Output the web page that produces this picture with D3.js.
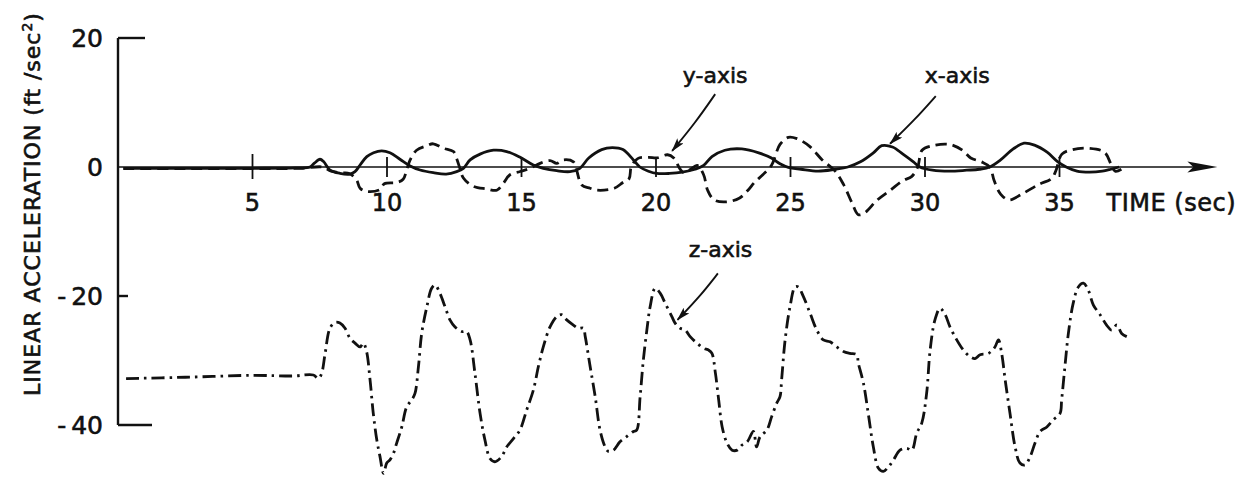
<!DOCTYPE html>
<html>
<head>
<meta charset="utf-8">
<script src="https://cdn.jsdelivr.net/npm/d3@7"></script>
<style>
  html, body { margin: 0; padding: 0; background: #fff; }
  svg { display: block; }
  text { font-family: "DejaVu Sans", sans-serif; fill: #111; stroke: #111; stroke-width: 0.6px; }
</style>
</head>
<body>
<svg id="chart" width="1242" height="477"></svg>
<script>
// time (sec) and linear acceleration (ft/sec^2)
var xAxisT = [0.2, 2.5, 5.0, 6.6, 7.14, 7.3, 7.51, 7.65, 7.88, 8.25, 8.63, 8.81, 9.0, 9.25, 9.5, 9.8, 10.11, 10.48, 10.86, 11.23, 11.72, 12.2, 12.59, 12.84, 13.09, 13.46, 13.96, 14.45, 14.95, 15.44, 15.81, 16.31, 16.8, 17.17, 17.5, 17.98, 18.38, 18.77, 19.16, 19.4, 19.72, 20.03, 20.5, 20.98, 21.45, 21.77, 22.08, 22.56, 23.19, 23.82, 24.29, 24.61, 24.92, 25.39, 26.03, 26.66, 27.13, 27.6, 28.08, 28.39, 28.79, 29.18, 29.57, 29.81, 30.28, 30.91, 31.55, 32.02, 32.41, 32.81, 33.28, 33.68, 34.07, 34.54, 34.94, 35.25, 35.65, 36.12, 36.59, 36.91, 37.22];
var xAxisV = [-0.2, -0.2, -0.2, -0.15, 0, 0.6, 1.2, 0.8, -0.47, -0.98, -1.09, -0.72, 0.31, 1.6, 2.2, 2.5, 2.2, 1.2, 0.16, -0.47, -0.88, -1.1, -0.72, -0.2, 1.1, 2.0, 2.6, 2.4, 1.5, 0.3, -0.2, -0.57, -0.72, -0.2, 1.4, 2.7, 3.0, 2.7, 1.1, 0, -0.65, -1.0, -1.0, -0.8, -0.35, 0.24, 1.6, 2.6, 2.8, 2.2, 1.4, 0.5, -0.06, -0.35, -0.65, -0.35, 0, 0.8, 2.2, 3.3, 3.1, 2.0, 0.8, 0, -0.5, -0.65, -0.5, -0.35, 0, 1.1, 2.8, 3.7, 3.4, 2.3, 0.8, 0, -0.65, -0.8, -0.65, -0.35, 0];

var yAxisT = [0.2, 2.5, 5.0, 6.8, 7.6, 7.9, 8.3, 8.6, 8.87, 9.0, 9.25, 9.74, 9.9, 10.36, 10.6, 10.73, 10.86, 11.1, 11.48, 11.72, 12.1, 12.47, 12.59, 12.71, 12.84, 13.21, 13.71, 14.08, 14.33, 14.57, 14.95, 15.32, 15.69, 16.06, 16.31, 16.55, 16.93, 17.05, 17.24, 17.55, 17.82, 18.45, 18.77, 19.0, 19.08, 19.32, 19.72, 20.03, 20.43, 20.66, 20.9, 21.06, 21.29, 21.53, 21.77, 21.92, 22.16, 22.63, 23.11, 23.42, 23.66, 23.97, 24.29, 24.61, 24.92, 25.24, 25.71, 26.18, 26.66, 26.97, 27.29, 27.52, 27.76, 28.23, 28.71, 29.18, 29.5, 29.73, 29.89, 30.28, 30.91, 31.39, 31.7, 32.1, 32.41, 32.57, 32.81, 33.12, 33.6, 34.23, 34.7, 34.86, 35.09, 35.49, 36.12, 36.67, 36.91, 37.07, 37.3];
var yAxisV = [-0.25, -0.25, -0.25, -0.2, 0, -0.6, -0.9, -1.0, -2.0, -3.3, -3.8, -3.5, -2.6, -2.4, -1.9, -0.5, 1.1, 2.6, 3.3, 3.6, 2.9, 2.4, 1.3, -0.2, -1.7, -3.0, -3.4, -3.6, -2.5, -1.2, -0.7, -0.2, 0.57, 1.0, 0.57, 1.1, 0.8, -0.5, -2.8, -3.3, -3.6, -3.3, -2.4, -1.8, 0, 1.3, 1.5, 1.4, 1.9, 1.4, -0.35, -0.9, -0.35, 0.24, -1.2, -3.6, -5.1, -5.4, -4.8, -3.6, -2.4, -1.2, 0.24, 3.5, 4.6, 4.4, 3.2, 1.1, -0.65, -2.7, -5.6, -7.4, -7.1, -5.1, -3.6, -2.1, -1.5, 0, 2.6, 3.3, 3.5, 2.6, 1.4, 0.8, 0, -2.1, -4.2, -5.1, -4.2, -2.7, -1.8, -0.65, 2.0, 2.7, 2.9, 2.3, 0.5, -0.65, -0.35];

var zAxisT = [0.3, 2.5, 5.0, 6.5, 7.26, 7.45, 7.57, 7.7, 7.88, 8.07, 8.25, 8.44, 8.63, 8.81, 9.0, 9.12, 9.24, 9.37, 9.49, 9.62, 9.74, 9.87, 9.99, 10.11, 10.24, 10.36, 10.55, 10.73, 10.92, 11.04, 11.17, 11.29, 11.48, 11.66, 11.79, 11.97, 12.16, 12.34, 12.53, 12.78, 12.96, 13.09, 13.27, 13.46, 13.64, 13.83, 14.01, 14.26, 14.45, 14.7, 14.94, 15.19, 15.44, 15.63, 15.81, 16.06, 16.31, 16.49, 16.68, 16.93, 17.12, 17.3, 17.37, 17.55, 17.74, 17.92, 18.11, 18.23, 18.42, 18.66, 18.91, 19.16, 19.28, 19.41, 19.53, 19.66, 19.78, 19.97, 20.16, 20.34, 20.59, 20.71, 20.9, 21.09, 21.27, 21.52, 21.77, 21.96, 22.08, 22.21, 22.33, 22.46, 22.64, 22.83, 23.02, 23.2, 23.39, 23.62, 23.74, 23.87, 24.12, 24.3, 24.49, 24.61, 24.67, 24.8, 24.98, 25.17, 25.29, 25.48, 25.73, 25.98, 26.22, 26.47, 26.72, 26.97, 27.21, 27.46, 27.52, 27.71, 27.89, 28.08, 28.27, 28.45, 28.64, 28.83, 29.07, 29.32, 29.51, 29.69, 29.88, 30.06, 30.19, 30.37, 30.56, 30.75, 30.93, 31.18, 31.43, 31.67, 31.86, 32.05, 32.36, 32.6, 32.73, 32.85, 32.98, 33.16, 33.35, 33.53, 33.72, 33.91, 34.09, 34.28, 34.53, 34.77, 35.02, 35.08, 35.2, 35.33, 35.51, 35.7, 35.89, 36.07, 36.26, 36.51, 36.75, 36.94, 37.13, 37.31, 37.5];
var zAxisV = [-32.8, -32.6, -32.3, -32.4, -32.25, -32.8, -32.0, -28.9, -25.0, -24.1, -24.2, -25.0, -26.6, -27.3, -27.9, -27.3, -28.6, -33.0, -38.2, -42.3, -44.9, -47.5, -45.9, -45.4, -44.4, -42.8, -40.3, -37.2, -36.1, -35.1, -30.9, -25.8, -21.7, -18.8, -18.3, -19.6, -21.7, -23.7, -24.8, -25.5, -25.5, -26.8, -32.0, -38.2, -42.3, -45.2, -45.7, -44.9, -43.4, -42.1, -40.8, -37.7, -34.6, -30.9, -27.9, -24.8, -23.2, -22.9, -23.7, -24.5, -25.0, -25.0, -26.3, -30.9, -35.6, -40.8, -43.4, -44.1, -43.9, -42.6, -41.8, -41.0, -40.8, -35.6, -29.9, -25.3, -21.7, -18.8, -19.6, -21.1, -23.2, -24.2, -25.0, -25.3, -26.3, -27.3, -28.1, -28.4, -28.9, -32.0, -36.1, -40.3, -42.8, -43.9, -43.9, -43.1, -42.6, -41.0, -43.4, -41.8, -40.8, -38.7, -36.6, -35.6, -33.0, -26.8, -21.7, -18.6, -18.6, -20.1, -22.7, -25.3, -26.8, -27.1, -27.9, -28.6, -28.9, -29.1, -30.4, -33.5, -38.2, -43.4, -46.7, -47.2, -46.5, -45.4, -43.9, -43.6, -43.9, -41.3, -39.7, -35.1, -28.4, -23.7, -21.9, -22.9, -24.8, -26.8, -28.4, -29.4, -29.7, -29.1, -28.9, -27.9, -26.8, -28.9, -33.0, -38.2, -43.4, -45.9, -46.2, -44.9, -42.8, -41.0, -40.3, -39.2, -38.2, -36.1, -31.0, -25.8, -21.1, -18.6, -18.0, -19.1, -21.4, -22.9, -24.5, -25.3, -24.5, -25.8, -26.3];

var timeTicks = [5, 10, 15, 20, 25, 30, 35];
var accelTicks = [20, 0, -20, -40];
var accelTickLabels = ["20", "0", "-\u200920", "-\u200940"];

var svg = d3.select("#chart");

var x = d3.scaleLinear().domain([0, 40]).range([118, 1194]);
var y = d3.scaleLinear().domain([20, -40]).range([38, 425]);

function pairs(ts, vs) { return ts.map(function (t, i) { return [t, vs[i]]; }); }

var line = d3.line()
    .x(function (d) { return x(d[0]); })
    .y(function (d) { return y(d[1]); })
    .curve(d3.curveCatmullRom.alpha(0.5));

// y axis (vertical line + uneven tick stubs)
svg.append("line")
    .attr("x1", x(0)).attr("x2", x(0))
    .attr("y1", y(20)).attr("y2", y(-40))
    .attr("stroke", "#111").attr("stroke-width", 2.4);

var stub = { "20": 27, "0": 0, "-20": 10, "-40": 34 };
svg.selectAll(".ytick").data(accelTicks).enter().append("line")
    .attr("class", "ytick")
    .attr("x1", x(0)).attr("x2", function (d) { return x(0) + stub[d]; })
    .attr("y1", y).attr("y2", y)
    .attr("stroke", "#111").attr("stroke-width", 2.4);

svg.selectAll(".ylab").data(accelTicks).enter().append("text")
    .attr("class", "ylab")
    .attr("x", x(0) - 15)
    .attr("y", function (d) { return y(d) + 9; })
    .attr("text-anchor", "end")
    .style("font-size", "25px")
    .text(function (d, i) { return accelTickLabels[i]; });

// y axis title
svg.append("text")
    .attr("transform", "translate(40,204) rotate(-90)")
    .attr("text-anchor", "middle")
    .style("font-size", "22px")
    .style("letter-spacing", "1px")
    .html('LINEAR ACCELERATION (ft /sec<tspan dy="-8" font-size="14px">2</tspan><tspan dy="8">)</tspan>');

// time axis with arrow
svg.append("line")
    .attr("x1", x(0)).attr("x2", x(40.2))
    .attr("y1", y(0)).attr("y2", y(0))
    .attr("stroke", "#111").attr("stroke-width", 1.6);

svg.append("path")
    .attr("d", d3.line()([[x(40.2) - 12, y(0) - 5.5], [x(40.2) + 18, y(0)], [x(40.2) - 12, y(0) + 5.5], [x(40.2) - 6, y(0)]]) + "Z")
    .attr("fill", "#111");

svg.selectAll(".xtick").data(timeTicks).enter().append("line")
    .attr("class", "xtick")
    .attr("x1", x).attr("x2", x)
    .attr("y1", function (d) { return y(0) - (d === 5 ? 13 : 10); })
    .attr("y2", function (d) { return y(0) + (d === 5 ? 12 : 10); })
    .attr("stroke", "#111").attr("stroke-width", 1.8);

svg.selectAll(".xlab").data(timeTicks).enter().append("text")
    .attr("class", "xlab")
    .attr("x", x)
    .attr("y", y(0) + 44)
    .attr("text-anchor", "middle")
    .style("font-size", "24px")
    .text(function (d) { return d; });

svg.append("text")
    .attr("x", 1236)
    .attr("y", y(0) + 44)
    .attr("text-anchor", "end")
    .style("font-size", "24px")
    .style("letter-spacing", "0.5px")
    .text("TIME (sec)");

// traces
svg.append("path")
    .datum(pairs(zAxisT, zAxisV))
    .attr("d", line)
    .attr("fill", "none")
    .attr("stroke", "#111").attr("stroke-width", 2.8)
    .attr("stroke-dasharray", "13,5,2.5,5");

svg.append("path")
    .datum(pairs(yAxisT, yAxisV))
    .attr("d", line)
    .attr("fill", "none")
    .attr("stroke", "#111").attr("stroke-width", 2.8)
    .attr("stroke-dasharray", "11,6");

svg.append("path")
    .datum(pairs(xAxisT, xAxisV))
    .attr("d", line)
    .attr("fill", "none")
    .attr("stroke", "#111").attr("stroke-width", 2.8);

// annotations
var defs = svg.append("defs");
defs.append("marker")
    .attr("id", "head")
    .attr("viewBox", "0 0 14 8")
    .attr("refX", 13).attr("refY", 4)
    .attr("markerWidth", 14).attr("markerHeight", 8)
    .attr("markerUnits", "userSpaceOnUse")
    .attr("orient", "auto")
    .append("path")
    .attr("d", "M0,0 L14,4 L0,8 L3,4 Z")
    .attr("fill", "#111");

var notes = [
  { label: "y-axis", tx: 22.2, tv: 13.0, from: [22.2, 11.3], to: [20.6, 2.5] },
  { label: "x-axis", tx: 31.2, tv: 13.0, from: [30.4, 11.0], to: [28.7, 3.6] },
  { label: "z-axis", tx: 22.4, tv: -14.0, from: [22.3, -16.5], to: [20.8, -23.7] }
];

notes.forEach(function (n) {
  svg.append("text")
      .attr("x", x(n.tx))
      .attr("y", y(n.tv))
      .attr("text-anchor", "middle")
      .style("font-size", "22px")
      .text(n.label);
  svg.append("path")
      .attr("d", d3.line().curve(d3.curveBundle.beta(1))([
        [x(n.from[0]), y(n.from[1])],
        [x((n.from[0] * 0.45 + n.to[0] * 0.55)) + 4, y((n.from[1] + n.to[1]) / 2)],
        [x(n.to[0]), y(n.to[1])]
      ]))
      .attr("fill", "none")
      .attr("stroke", "#111").attr("stroke-width", 1.9)
      .attr("marker-end", "url(#head)");
});
</script>
</body>
</html>
